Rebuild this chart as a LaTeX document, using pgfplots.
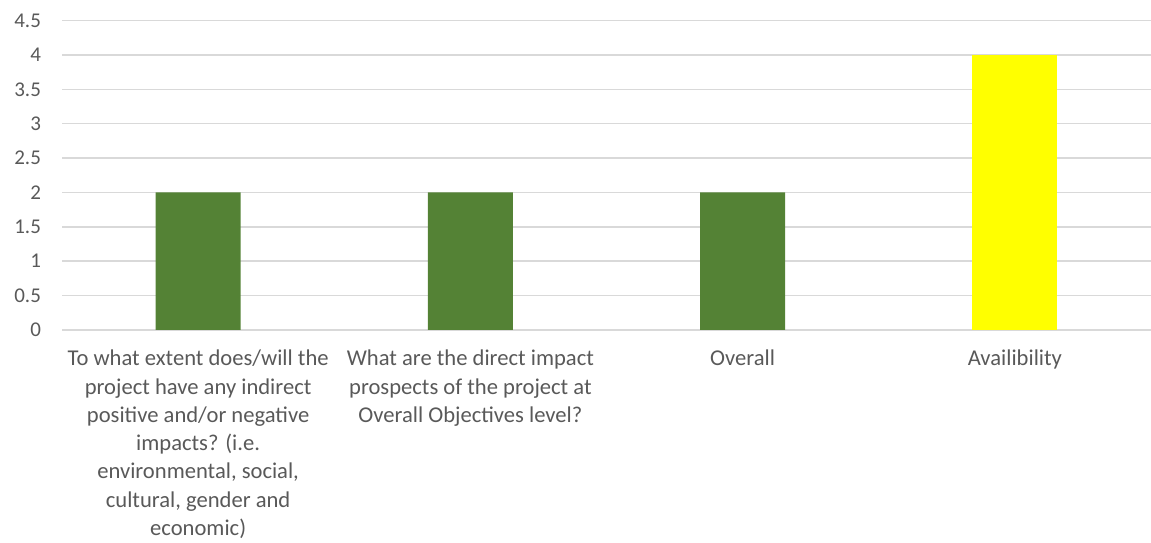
\documentclass[border=0pt]{standalone}
\usepackage{pgfplots}
\pgfplotsset{compat=1.18}
\usepackage{fontspec}
\setmainfont{Carlito}
\definecolor{bargreen}{HTML}{548235}
\definecolor{baryellow}{HTML}{FFFF00}
\definecolor{gridgray}{HTML}{D9D9D9}
\definecolor{textgray}{HTML}{595959}
\begin{document}
\begin{tikzpicture}
\begin{axis}[name=ax, scale only axis, width=544.5pt, height=154.75pt,
  xmin=-0.5, xmax=3.5, ymin=0, ymax=4.5,
  ytick={0,0.5,1,1.5,2,2.5,3,3.5,4,4.5},
  xtick={0,1,2,3},
  xticklabels={{To what extent does/will the\\project have any indirect\\positive and/or negative\\impacts? (i.e.\\environmental, social,\\cultural, gender and\\economic)},
    {What are the direct impact\\prospects of the project at\\Overall Objectives level?},
    {Overall},{Availibility}},
  /pgf/number format/assume math mode=true,
  major tick length=0pt,
  axis line style={draw=none},
  ymajorgrids, grid style={gridgray, line width=0.75pt},
  yticklabel style={text=textgray, font=\fontsize{10.5}{12}\selectfont, xshift=-7pt},
  xticklabel style={text=textgray, font=\fontsize{11.3}{14.15}\selectfont, align=center, anchor=north, yshift=-6.5pt},
  ybar, bar width=42.5pt,
]
\addplot[fill=bargreen, draw=none, bar shift=0pt] coordinates {(0,2) (1,2) (2,2)};
\addplot[fill=baryellow, draw=none, bar shift=0pt] coordinates {(3,4)};
\end{axis}
\pgfresetboundingbox
\path[use as bounding box] ([shift={(-31pt,-106.5pt)}]ax.south west) rectangle ([shift={(0pt,10.25pt)}]ax.north east);
\end{tikzpicture}
\end{document}
